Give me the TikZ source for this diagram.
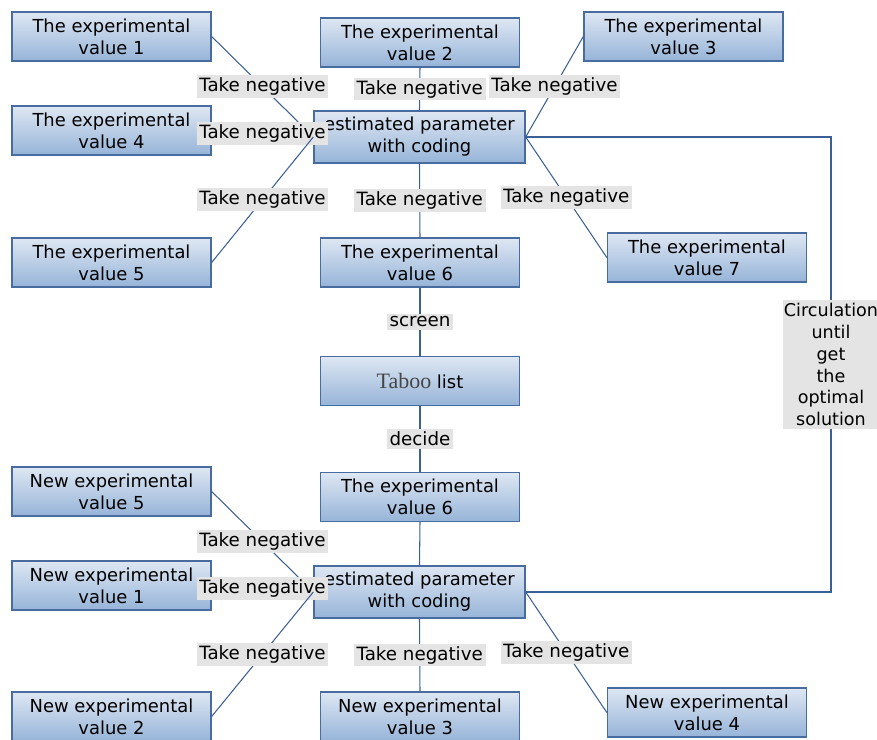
\documentclass[tikz,border=0pt]{standalone}
\usepackage{fontspec}
\setmainfont{DejaVu Sans}
\newfontfamily\tabooserif{Liberation Serif}
\usetikzlibrary{calc}

\definecolor{boxline}{RGB}{72,108,160}
\definecolor{boxtop}{RGB}{222,231,243}
\definecolor{boxbot}{RGB}{150,180,216}
\definecolor{linkline}{RGB}{60,96,150}
\definecolor{tagbg}{RGB}{228,228,228}

\tikzset{
  valbox/.style={draw=boxline, line width=0.8pt, top color=boxtop, bottom color=boxbot,
    minimum width=3.98cm, minimum height=0.98cm, inner sep=0pt, align=center,
    font=\fontsize{10.2}{12.5}\selectfont},
  parbox/.style={valbox, minimum width=4.22cm, minimum height=1.04cm},
  tag/.style={fill=tagbg, inner sep=1.5pt, align=center, font=\fontsize{10.4}{12.5}\selectfont},
  looptag/.style={tag, inner xsep=0.3pt, font=\fontsize{10}{12.5}\selectfont},
  link/.style={draw=linkline, line width=0.6pt}
}

\begin{document}
\begin{tikzpicture}[x=0.02cm, y=-0.02cm]
\useasboundingbox (0,0) rectangle (877,740);

% upper half
\node[valbox] (v1) at (111.5,36.5) {The experimental\\value 1};
\node[valbox] (v2) at (420,42.5) {The experimental\\value 2};
\node[valbox] (v3) at (683.5,36.5) {The experimental\\value 3};
\node[valbox] (v4) at (111.5,130.5) {The experimental\\value 4};
\node[parbox] (ep1) at (419.5,137) {estimated parameter\\with coding};
\node[valbox] (v5) at (111.5,262.5) {The experimental\\value 5};
\node[valbox] (v6) at (420,262.5) {The experimental\\value 6};
\node[valbox] (v7) at (707,257.5) {The experimental\\value 7};

\node[valbox] (taboo) at (420,381) {{\tabooserif\fontsize{12.5}{12.5}\selectfont\color[RGB]{70,70,70}Taboo} list};

% lower half
\node[valbox] (n5) at (111.5,491.5) {New experimental\\value 5};
\node[valbox] (v6b) at (420,497) {The experimental\\value 6};
\node[valbox] (n1) at (111.5,585.5) {New experimental\\value 1};
\node[parbox] (ep2) at (419.5,592) {estimated parameter\\with coding};
\node[valbox] (n2) at (111.5,716.5) {New experimental\\value 2};
\node[valbox] (n3) at (420,716.5) {New experimental\\value 3};
\node[valbox] (n4) at (707,712.5) {New experimental\\value 4};

\coordinate (c1) at (831,137);
\coordinate (c2) at (831,592);

\draw[link] (v1.east) -- node[tag]{Take negative} (ep1.west);
\draw[link] (v2.south) -- node[tag]{Take negative} (ep1.north);
\draw[link] (v3.west) -- node[tag]{Take negative} (ep1.east);
\draw[link] (v4.east) -- node[tag]{Take negative} (ep1.west);
\draw[link] (v5.east) -- node[tag]{Take negative} (ep1.west);
\draw[link] (ep1.south) -- node[tag]{Take negative} (v6.north);
\draw[link] (ep1.east) -- node[tag]{Take negative} (v7.west);
\draw[link] (v6.south) -- node[tag]{screen} (taboo.north);
\draw[link] (taboo.south) -- node[tag]{decide} (v6b.north);
\draw[link] (v6b.south) -- (ep2.north);
\draw[link] (ep1.east) -- (c1) -- node[looptag]{Circulation\\until\\get\\the\\optimal\\solution} (c2) -- (ep2.east);

\draw[link] (n5.east) -- node[tag]{Take negative} (ep2.west);
\draw[link] (n1.east) -- node[tag]{Take negative} (ep2.west);
\draw[link] (n2.east) -- node[tag]{Take negative} (ep2.west);
\draw[link] (ep2.south) -- node[tag]{Take negative} (n3.north);
\draw[link] (ep2.east) -- node[tag]{Take negative} (n4.west);
\end{tikzpicture}
\end{document}
